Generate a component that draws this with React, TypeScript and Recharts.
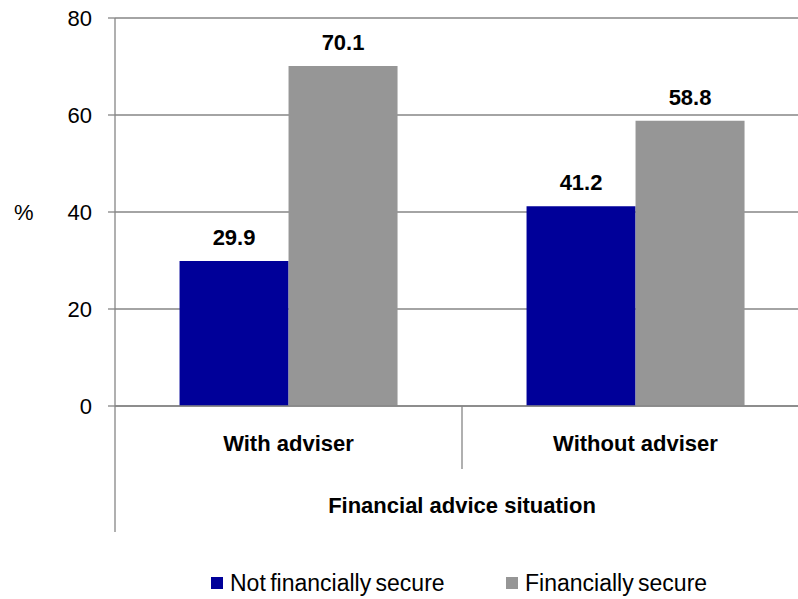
import React from 'react';
import { BarChart, Bar, XAxis, YAxis, CartesianGrid, LabelList } from 'recharts';

const categories = ['With adviser', 'Without adviser'];
const notSecure = [29.9, 41.2];
const secure = [70.1, 58.8];
const yTicks = [0, 20, 40, 60, 80];
const seriesNames = ['Not financially secure', 'Financially secure'];

const NAVY = '#000099';
const GREY = '#969696';
const LINE = '#868686';
const FONT = '"Liberation Sans", Arial, sans-serif';

const CHART_W = 812;
const CHART_H = 599;
const Y_AXIS_W = 115;
const MARGIN = { top: 18, right: 3, left: 0, bottom: 63 };
const X_AXIS_H = 130;
const BAND = (CHART_W - MARGIN.right - MARGIN.left - Y_AXIS_W) / categories.length;

const data = categories.map((name, i) => ({
  name,
  notSecure: notSecure[i],
  secure: secure[i],
}));

const CategoryTick = (props: any) => {
  const { x, y, payload, index } = props;
  const half = BAND / 2;
  return (
    <g>
      <text
        x={x}
        y={y + 45}
        textAnchor="middle"
        fontFamily={FONT}
        fontSize={22}
        fontWeight="bold"
        fill="#000"
      >
        {payload.value}
      </text>
      {index === 0 && (
        <line x1={x - half} x2={x - half} y1={y} y2={y + 126} stroke={LINE} strokeWidth={1.3} />
      )}
      {index < categories.length - 1 && (
        <line x1={x + half} x2={x + half} y1={y} y2={y + 63} stroke={LINE} strokeWidth={1.3} />
      )}
    </g>
  );
};

const labelStyle = { fontFamily: FONT, fontSize: 22, fontWeight: 'bold' as const, fill: '#000' };

export default function App() {
  return (
    <div
      style={{
        position: 'absolute',
        left: 0,
        top: 0,
        width: 798,
        height: 599,
        overflow: 'hidden',
        background: '#fff',
        fontFamily: FONT,
      }}
    >
      <BarChart
        width={CHART_W}
        height={CHART_H}
        data={data}
        margin={MARGIN}
        barCategoryGap="18.6%"
        barGap={0}
      >
        <CartesianGrid vertical={false} stroke={LINE} strokeWidth={1.3} />
        <XAxis
          dataKey="name"
          type="category"
          height={X_AXIS_H}
          axisLine={{ stroke: LINE, strokeWidth: 1.3 }}
          tickLine={false}
          tickSize={0}
          tickMargin={0}
          tick={<CategoryTick />}
          interval={0}
          label={{
            value: 'Financial advice situation',
            position: 'insideBottom',
            offset: 23,
            style: { ...labelStyle },
          }}
        />
        <YAxis
          domain={[0, 80]}
          ticks={yTicks}
          width={Y_AXIS_W}
          axisLine={{ stroke: LINE, strokeWidth: 1.3 }}
          tickLine={{ stroke: LINE, strokeWidth: 1.3 }}
          tickSize={7}
          tickMargin={16}
          tick={{ fontFamily: FONT, fontSize: 22, fill: '#000' }}
          label={{
            value: '%',
            position: 'insideLeft',
            offset: 14,
            style: { fontFamily: FONT, fontSize: 22, fill: '#000' },
          }}
        />
        <Bar dataKey="notSecure" name={seriesNames[0]} fill={NAVY} isAnimationActive={false}>
          <LabelList
            dataKey="notSecure"
            position="top"
            offset={16}
            formatter={(v: any) => Number(v).toFixed(1)}
            style={labelStyle}
          />
        </Bar>
        <Bar dataKey="secure" name={seriesNames[1]} fill={GREY} isAnimationActive={false}>
          <LabelList
            dataKey="secure"
            position="top"
            offset={16}
            formatter={(v: any) => Number(v).toFixed(1)}
            style={labelStyle}
          />
        </Bar>
      </BarChart>
      <div
        style={{
          position: 'absolute',
          top: 571,
          left: 211,
          display: 'flex',
          fontSize: 23,
          lineHeight: '24px',
          color: '#000',
        }}
      >
        {seriesNames.map((n, i) => (
          <div key={n} style={{ display: 'flex', alignItems: 'center', width: 295 }}>
            <span
              style={{
                display: 'inline-block',
                width: 12,
                height: 12,
                background: i === 0 ? NAVY : GREY,
                marginRight: 7,
              }}
            />
            <span style={{ wordSpacing: -2 }}>{n}</span>
          </div>
        ))}
      </div>
    </div>
  );
}
